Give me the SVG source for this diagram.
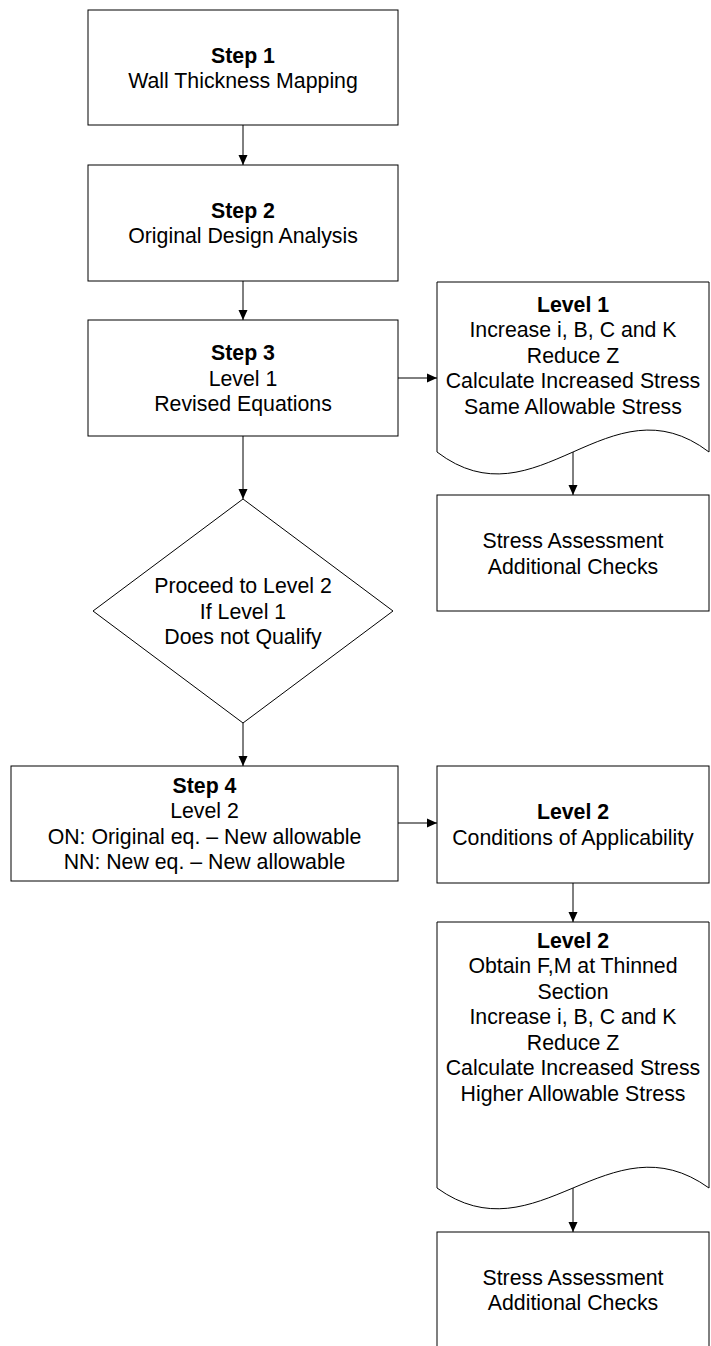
<svg xmlns="http://www.w3.org/2000/svg" width="711" height="1346" viewBox="0 0 711 1346">
<style>
.s{fill:#fff;stroke:#000;stroke-width:1}
.t{font-family:"Liberation Sans",Arial,sans-serif;font-size:21.3px;fill:#000;text-anchor:middle}
.b{font-weight:bold}
.c{stroke:#000;stroke-width:1;fill:none;marker-end:url(#ah)}
</style>
<defs>
<marker id="ah" viewBox="0 0 10 10" refX="10" refY="5" markerWidth="10" markerHeight="10" markerUnits="userSpaceOnUse" orient="auto">
<path d="M0,0.5 L10,5 L0,9.5 Z" fill="#000"/>
</marker>
</defs>
<rect width="711" height="1346" fill="#fff"/>
<g id="connectors">
<line class="c" x1="243" y1="125" x2="243" y2="165"/>
<line class="c" x1="243" y1="281" x2="243" y2="320"/>
<line class="c" x1="398" y1="378" x2="437" y2="378"/>
<line class="c" x1="573" y1="452" x2="573" y2="495"/>
<line class="c" x1="243" y1="436" x2="243" y2="499"/>
<line class="c" x1="243" y1="723" x2="243" y2="766"/>
<line class="c" x1="398" y1="823" x2="437" y2="823"/>
<line class="c" x1="573" y1="883" x2="573" y2="922"/>
<line class="c" x1="573" y1="1188" x2="573" y2="1232"/>
</g>
<g id="step1">
<rect class="s" x="88" y="10" width="310" height="115"/>
<text class="t b" x="243" y="62.5">Step 1</text>
<text class="t" x="243" y="88">Wall Thickness Mapping</text>
</g>
<g id="step2">
<rect class="s" x="88" y="165" width="310" height="116"/>
<text class="t b" x="243" y="217.8">Step 2</text>
<text class="t" x="243" y="243.3">Original Design Analysis</text>
</g>
<g id="step3">
<rect class="s" x="88" y="320" width="310" height="116"/>
<text class="t b" x="243" y="360">Step 3</text>
<text class="t" x="243" y="385.5">Level 1</text>
<text class="t" x="243" y="411">Revised Equations</text>
</g>
<g id="level1doc">
<path class="s" d="M437,452 V282 H709 V452 C609,376 537,528 437,452 Z"/>
<text class="t b" x="573" y="311.5">Level 1</text>
<text class="t" x="573" y="337">Increase i, B, C and K</text>
<text class="t" x="573" y="362.5">Reduce Z</text>
<text class="t" x="573" y="388">Calculate Increased Stress</text>
<text class="t" x="573" y="413.5">Same Allowable Stress</text>
</g>
<g id="stress1">
<rect class="s" x="437" y="495" width="272" height="116"/>
<text class="t" x="573" y="548">Stress Assessment</text>
<text class="t" x="573" y="573.5">Additional Checks</text>
</g>
<g id="decision">
<polygon class="s" points="243,499 393,611 243,723 93,611"/>
<text class="t" x="243" y="593">Proceed to Level 2</text>
<text class="t" x="243" y="618.5">If Level 1</text>
<text class="t" x="243" y="644">Does not Qualify</text>
</g>
<g id="step4">
<rect class="s" x="11" y="766" width="387" height="115"/>
<text class="t b" x="204.5" y="792.8">Step 4</text>
<text class="t" x="204.5" y="818.3">Level 2</text>
<text class="t" x="204.5" y="843.8">ON: Original eq. – New allowable</text>
<text class="t" x="204.5" y="869.3">NN: New eq. – New allowable</text>
</g>
<g id="level2cond">
<rect class="s" x="437" y="766" width="272" height="117"/>
<text class="t b" x="573" y="819.3">Level 2</text>
<text class="t" x="573" y="844.8">Conditions of Applicability</text>
</g>
<g id="level2doc">
<path class="s" d="M437,1188 V922 H709 V1188 C609,1116 537,1260 437,1188 Z"/>
<text class="t b" x="573" y="947.5">Level 2</text>
<text class="t" x="573" y="973">Obtain F,M at Thinned</text>
<text class="t" x="573" y="998.5">Section</text>
<text class="t" x="573" y="1024">Increase i, B, C and K</text>
<text class="t" x="573" y="1049.5">Reduce Z</text>
<text class="t" x="573" y="1075">Calculate Increased Stress</text>
<text class="t" x="573" y="1100.5">Higher Allowable Stress</text>
</g>
<g id="stress2">
<rect class="s" x="437" y="1232" width="272" height="130"/>
<text class="t" x="573" y="1284.5">Stress Assessment</text>
<text class="t" x="573" y="1310">Additional Checks</text>
</g>
</svg>
